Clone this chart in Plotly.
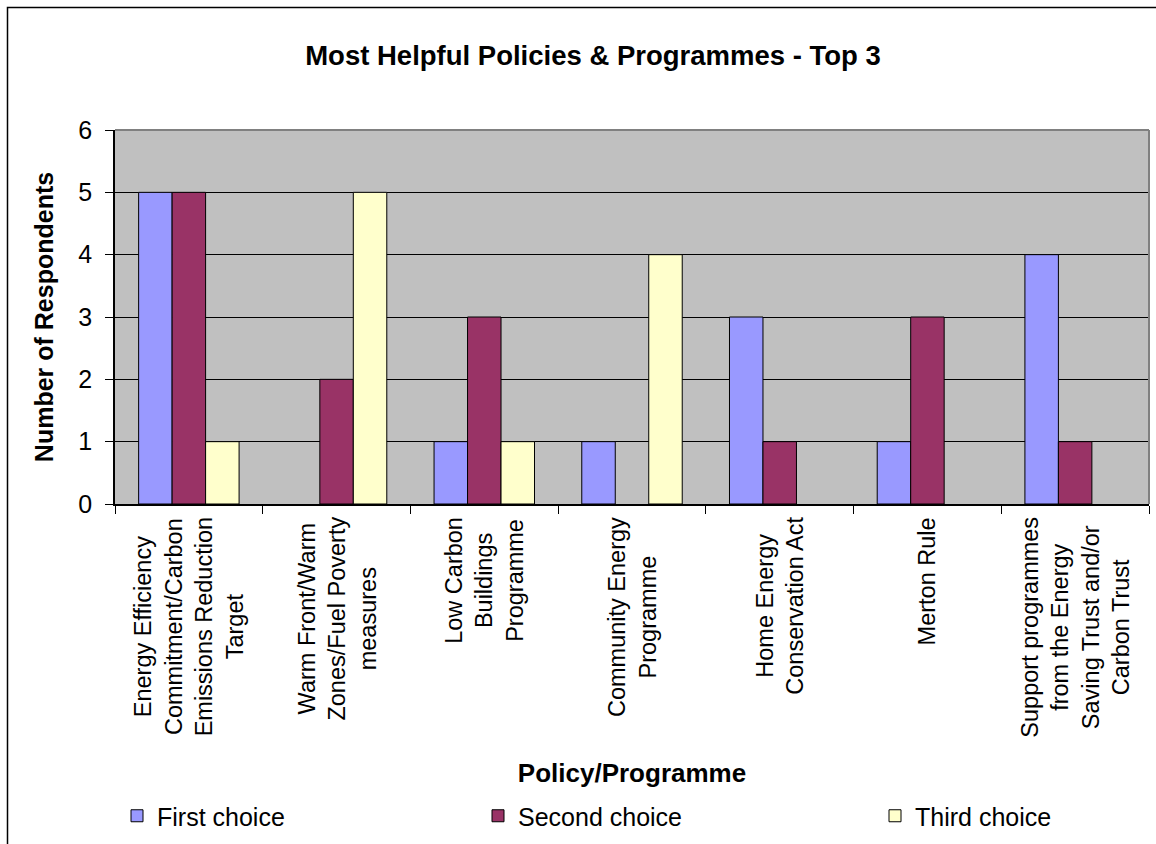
import plotly.graph_objects as go

# Survey results: how many respondents ranked each policy first, second or third
categories = [
    "Energy Efficiency<br>Commitment/Carbon<br>Emissions Reduction<br>Target",
    "Warm Front/Warm<br>Zones/Fuel Poverty<br>measures",
    "Low Carbon<br>Buildings<br>Programme",
    "Community Energy<br>Programme",
    "Home Energy<br>Conservation Act",
    "Merton Rule",
    "Support programmes<br>from the Energy<br>Saving Trust and/or<br>Carbon Trust",
]
first_choice = [5, None, 1, 1, 3, 1, 4]
second_choice = [5, 2, 3, None, 1, 3, 1]
third_choice = [1, 5, 1, 4, None, None, None]

series_names = ["First choice", "Second choice", "Third choice"]
series_colors = ["#9999FF", "#993366", "#FFFFCC"]
series_values = [first_choice, second_choice, third_choice]

W, H = 1156, 844
FONT = "Liberation Sans, Arial, sans-serif"

# plot-area placement in pixels
PL, PR, PT, PB = 115, 1149, 130, 504
PW, PH = PR - PL, PB - PT


def px_x(X):
    return (X - PL) / PW


def px_y(Y):
    return (PB - Y) / PH


cat_ids = [f"c{i}" for i in range(len(categories))]

fig = go.Figure()
legend_ids = ["legend", "legend2", "legend3"]
for name, color, vals, lg in zip(series_names, series_colors, series_values, legend_ids):
    fig.add_trace(go.Bar(
        x=cat_ids, y=vals, name=name, legend=lg, showlegend=True,
        marker=dict(color=color, line=dict(color="black", width=1)),
    ))

# horizontal pixel position of each legend swatch
legend_x = [138, 499, 896]
legend_style = dict(
    font=dict(family=FONT, size=25, color="black"),
    orientation="h", xref="container", yref="container",
    yanchor="middle", xanchor="left", y=1 - 816 / H,
    bgcolor="rgba(0,0,0,0)", borderwidth=0, itemclick=False,
)

fig.update_layout(
    width=W, height=H,
    margin=dict(l=PL, r=W - PR, t=PT, b=H - PB),
    paper_bgcolor="white", plot_bgcolor="#C0C0C0",
    barmode="group", bargap=0.32, bargroupgap=0,
    font=dict(family=FONT, color="black"),
    showlegend=True,
    title=dict(
        text="<b>Most Helpful Policies & Programmes - Top 3</b>",
        font=dict(family=FONT, size=27.5, color="black"),
        x=593 / W, xanchor="center", xref="container",
        y=1 - 55 / H, yanchor="middle", yref="container",
    ),
    legend=dict(**legend_style, x=(legend_x[0] - 21) / W),
    legend2=dict(**legend_style, x=(legend_x[1] - 21) / W),
    legend3=dict(**legend_style, x=(legend_x[2] - 21) / W),
    xaxis=dict(
        type="category", categoryorder="array", categoryarray=cat_ids,
        showticklabels=False, ticks="outside", ticklen=8, tickcolor="black",
        tickson="boundaries", showline=True, linecolor="black", linewidth=1.5,
        showgrid=False, zeroline=False,
        title=dict(text="<b>Policy/Programme</b>",
                   font=dict(family=FONT, size=26, color="black"), standoff=259),
        automargin=False,
    ),
    yaxis=dict(
        range=[0, 6], dtick=1, tick0=0,
        ticks="outside", ticklen=8, tickcolor="black",
        tickfont=dict(family=FONT, size=25, color="black"),
        ticklabelstandoff=8,
        showline=True, linecolor="black", linewidth=1.5,
        showgrid=True, gridcolor="black", gridwidth=1, zeroline=False,
        title=dict(text="<b>Number of Respondents</b>",
                   font=dict(family=FONT, size=25, color="black"), standoff=18),
        automargin=False,
    ),
)

# category labels, rotated with centred lines
for cid, label in zip(cat_ids, categories):
    fig.add_annotation(
        x=cid, xref="x", y=px_y(515), yref="paper",
        text=label, textangle=-90, showarrow=False,
        xanchor="center", yanchor="top", align="center",
        font=dict(family=FONT, size=23.5, color="black"),
    )

# grey frame on top and right of the plot area
fig.add_shape(type="line", xref="paper", yref="paper", x0=0, x1=1, y0=1, y1=1,
              line=dict(color="#808080", width=2), layer="above")
fig.add_shape(type="line", xref="paper", yref="paper", x0=1, x1=1, y0=0, y1=1,
              line=dict(color="#808080", width=2), layer="above")

# outer chart border
fig.add_shape(type="rect", xref="paper", yref="paper",
              x0=px_x(7.5), x1=px_x(1170), y0=px_y(7.5), y1=px_y(860),
              line=dict(color="black", width=1.5), fillcolor="rgba(0,0,0,0)",
              layer="above")

fig.write_html("out.html")
